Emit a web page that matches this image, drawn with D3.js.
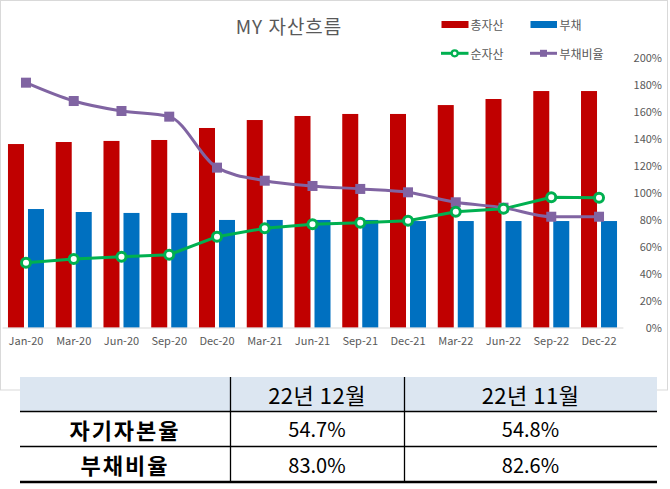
<!DOCTYPE html>
<html>
<head>
<meta charset="utf-8">
<script src="https://cdn.jsdelivr.net/npm/d3@7"></script>
<style>
  body { margin: 0; background: #fff; }
  svg { display: block; font-family: "Noto Sans CJK KR", "Noto Sans", sans-serif; }
</style>
</head>
<body>
<svg width="670" height="489"></svg>
<script>
var categories = ["Jan-20", "Mar-20", "Jun-20", "Sep-20", "Dec-20", "Mar-21", "Jun-21", "Sep-21", "Dec-21", "Mar-22", "Jun-22", "Sep-22", "Dec-22"];
var totalAssets = [136.2, 137.7, 138.5, 139.2, 148.1, 154.0, 157.0, 158.5, 158.5, 165.1, 169.6, 175.5, 175.5];
var debt = [88.0, 85.8, 85.1, 85.1, 79.9, 79.9, 79.9, 79.9, 79.1, 79.1, 79.1, 79.1, 79.1];
var netAssets = [48.2, 50.9, 52.7, 54.1, 67.5, 73.7, 76.7, 77.9, 79.3, 86.0, 88.2, 96.7, 96.4];
var debtRatio = [1.817, 1.681, 1.607, 1.565, 1.187, 1.090, 1.051, 1.029, 1.004, 0.930, 0.890, 0.823, 0.823];
var pctTicks = [0, 0.2, 0.4, 0.6, 0.8, 1.0, 1.2, 1.4, 1.6, 1.8, 2.0];

var tableHeader = ["", "22년 12월", "22년 11월"];
var tableRowLabels = ["자기자본율", "부채비율"];
var tableDec = ["54.7%", "83.0%"];
var tableNov = ["54.8%", "82.6%"];

var svg = d3.select("svg");
var grey = "#595959";

// chart frame
svg.append("rect")
  .attr("x", 0.5).attr("y", 0.5)
  .attr("width", 667).attr("height", 389.5)
  .attr("fill", "#fff")
  .attr("stroke", "#d9d9d9");

var data = categories.map(function(c, i) {
  return { cat: c, total: totalAssets[i], debt: debt[i], net: netAssets[i], ratio: debtRatio[i] };
});

var x = d3.scaleBand()
  .domain(categories)
  .range([2.1, 622.9])
  .paddingInner(0.246)
  .paddingOuter(0.123);

var x1 = d3.scaleBand()
  .domain(["total", "debt"])
  .range([0, x.bandwidth()])
  .paddingInner(0.2);

var yAmt = d3.scaleLinear().domain([0, 200]).range([327.7, 58]);
var yPct = d3.scaleLinear().domain([0, 2]).range([327.7, 58]);

var barColor = { total: "#C00000", debt: "#0070C0" };

var g = svg.append("g");

// bars
var groups = g.selectAll(".cat")
  .data(data)
  .enter().append("g")
  .attr("transform", function(d) { return "translate(" + x(d.cat) + ",0)"; });

groups.selectAll("rect")
  .data(function(d) { return [{ k: "total", v: d.total }, { k: "debt", v: d.debt }]; })
  .enter().append("rect")
  .attr("x", function(d) { return x1(d.k); })
  .attr("width", x1.bandwidth())
  .attr("y", function(d) { return yAmt(d.v); })
  .attr("height", function(d) { return yAmt(0) - yAmt(d.v); })
  .attr("fill", function(d) { return barColor[d.k]; });

// x axis
var xAxis = g.append("g")
  .attr("transform", "translate(0,327.5)")
  .call(d3.axisBottom(x).tickSize(0).tickPadding(10));
xAxis.select(".domain").attr("stroke", "#d9d9d9");
xAxis.selectAll("text")
  .attr("fill", grey)
  .style("font-size", "11px")
  .style("font-family", "Noto Sans CJK KR");

// right percent axis
var yAxis = g.append("g")
  .attr("transform", "translate(662,0)")
  .call(d3.axisLeft(yPct).tickValues(pctTicks).tickSize(0).tickPadding(0).tickFormat(d3.format(".0%")));
yAxis.select(".domain").remove();
yAxis.selectAll("text")
  .attr("fill", grey)
  .style("font-size", "11px")
  .style("font-family", "Noto Sans CJK KR");

var cx = function(d) { return x(d.cat) + x.bandwidth() / 2; };

// net assets line
var lineNet = d3.line()
  .x(cx)
  .y(function(d) { return yAmt(d.net); });

g.append("path")
  .datum(data)
  .attr("fill", "none")
  .attr("stroke", "#00B050")
  .attr("stroke-width", 3)
  .attr("stroke-linejoin", "round")
  .attr("d", lineNet);

// debt ratio line (smoothed)
var lineRatio = d3.line()
  .curve(d3.curveMonotoneX)
  .x(cx)
  .y(function(d) { return yPct(d.ratio); });

g.append("path")
  .datum(data)
  .attr("fill", "none")
  .attr("stroke", "#8064A2")
  .attr("stroke-width", 3)
  .attr("stroke-linejoin", "round")
  .attr("d", lineRatio);

g.selectAll(".sq")
  .data(data)
  .enter().append("rect")
  .attr("x", function(d) { return cx(d) - 5; })
  .attr("y", function(d) { return yPct(d.ratio) - 5; })
  .attr("width", 10).attr("height", 10)
  .attr("fill", "#8064A2");

g.selectAll(".dot")
  .data(data)
  .enter().append("circle")
  .attr("cx", cx)
  .attr("cy", function(d) { return yAmt(d.net); })
  .attr("r", 4.5)
  .attr("fill", "#fff")
  .attr("stroke", "#00B050")
  .attr("stroke-width", 3);

// title
svg.append("text")
  .attr("x", 289).attr("y", 25)
  .attr("text-anchor", "middle")
  .attr("dominant-baseline", "central")
  .attr("fill", grey)
  .style("font-size", "19px")
  .style("letter-spacing", "1px")
  .text("MY 자산흐름");

// legend
var legend = svg.append("g").style("font-size", "12px").attr("fill", grey);

legend.append("rect").attr("x", 441.5).attr("y", 21).attr("width", 27).attr("height", 7).attr("fill", "#C00000");
legend.append("text").attr("x", 470.5).attr("y", 24.5).attr("dominant-baseline", "central").text("총자산");
legend.append("rect").attr("x", 530.5).attr("y", 21).attr("width", 26.5).attr("height", 7).attr("fill", "#0070C0");
legend.append("text").attr("x", 559.5).attr("y", 24.5).attr("dominant-baseline", "central").text("부채");

legend.append("line").attr("x1", 441).attr("x2", 468.5).attr("y1", 53.3).attr("y2", 53.3)
  .attr("stroke", "#00B050").attr("stroke-width", 3);
legend.append("circle").attr("cx", 454.7).attr("cy", 53.3).attr("r", 3)
  .attr("fill", "#fff").attr("stroke", "#00B050").attr("stroke-width", 2.2);
legend.append("text").attr("x", 470.5).attr("y", 53.3).attr("dominant-baseline", "central").text("순자산");
legend.append("line").attr("x1", 530).attr("x2", 557).attr("y1", 53.3).attr("y2", 53.3)
  .attr("stroke", "#8064A2").attr("stroke-width", 3);
legend.append("rect").attr("x", 540).attr("y", 49.8).attr("width", 7).attr("height", 7).attr("fill", "#8064A2");
legend.append("text").attr("x", 559.5).attr("y", 53.3).attr("dominant-baseline", "central").text("부채비율");

// table under the chart
var colX = [20, 230, 404, 657];
var rowY = [377, 411, 446, 482];
var t = svg.append("g");

t.append("rect")
  .attr("x", colX[0]).attr("y", rowY[0] - 7)
  .attr("width", colX[3] - colX[0]).attr("height", rowY[3] - rowY[0] + 7)
  .attr("fill", "#fff");
t.append("rect")
  .attr("x", colX[0]).attr("y", rowY[0])
  .attr("width", colX[3] - colX[0]).attr("height", rowY[1] - rowY[0])
  .attr("fill", "#DCE6F1");

[rowY[1], rowY[2]].forEach(function(yy) {
  t.append("line").attr("x1", colX[0]).attr("x2", colX[3]).attr("y1", yy + 0.5).attr("y2", yy + 0.5)
    .attr("stroke", "#000").attr("stroke-width", 1.3);
});
t.append("line").attr("x1", colX[0]).attr("x2", colX[3]).attr("y1", rowY[3]).attr("y2", rowY[3])
  .attr("stroke", "#000").attr("stroke-width", 2.6);
[colX[1], colX[2]].forEach(function(xx) {
  t.append("line").attr("x1", xx + 0.5).attr("x2", xx + 0.5).attr("y1", rowY[0]).attr("y2", rowY[3] - 1)
    .attr("stroke", "#000").attr("stroke-width", 1.3);
});

var mid = function(a, i) { return (a[i] + a[i + 1]) / 2; };

tableHeader.forEach(function(h, i) {
  if (!h) return;
  t.append("text")
    .attr("x", mid(colX, i)).attr("y", mid(rowY, 0))
    .attr("text-anchor", "middle").attr("dominant-baseline", "central")
    .style("font-size", "22px").style("letter-spacing", "0.5px").attr("fill", "#000")
    .text(h);
});

tableRowLabels.forEach(function(lbl, r) {
  t.append("text")
    .attr("x", mid(colX, 0)).attr("y", mid(rowY, r + 1))
    .attr("text-anchor", "middle").attr("dominant-baseline", "central")
    .style("font-size", "22px").style("font-weight", "bold").style("letter-spacing", "2px").attr("fill", "#000")
    .text(lbl);
  t.append("text")
    .attr("x", mid(colX, 1)).attr("y", mid(rowY, r + 1))
    .attr("text-anchor", "middle").attr("dominant-baseline", "central")
    .style("font-size", "20px").attr("fill", "#000")
    .text(tableDec[r]);
  t.append("text")
    .attr("x", mid(colX, 2)).attr("y", mid(rowY, r + 1))
    .attr("text-anchor", "middle").attr("dominant-baseline", "central")
    .style("font-size", "20px").attr("fill", "#000")
    .text(tableNov[r]);
});
</script>
</body>
</html>
